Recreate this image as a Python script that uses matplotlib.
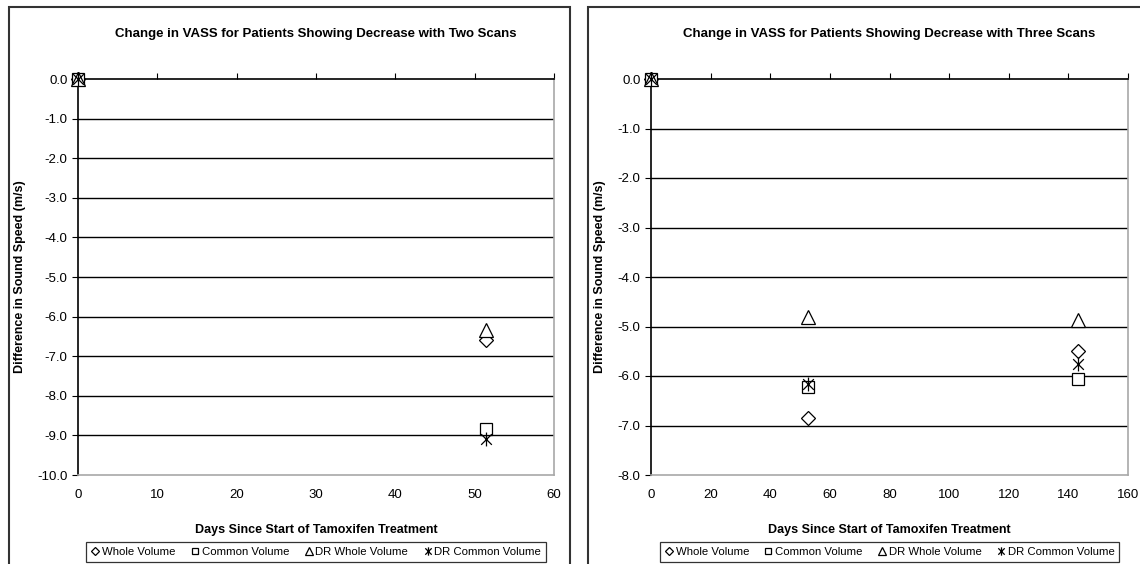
import matplotlib
matplotlib.use("Agg")
import matplotlib.pyplot as plt
from matplotlib.path import Path
from matplotlib.patches import Rectangle

plt.rcParams['font.family'] = ['Liberation Sans', 'DejaVu Sans']

# two-scan patients
days_two = [0, 51.4]
whole_two = [0.0, -6.60]
common_two = [0.0, -8.85]
dr_whole_two = [0.0, -6.35]
dr_common_two = [0.0, -9.08]

# three-scan patients
days_three = [0, 52.5, 143.3]
whole_three = [0.0, -6.85, -5.49]
common_three = [0.0, -6.22, -6.07]
dr_whole_three = [0.0, -4.80, -4.87]
dr_common_three = [0.0, -6.16, -5.75]

series_names = ["Whole Volume", "Common Volume", "DR Whole Volume", "DR Common Volume"]

W, H = 1140, 564
fig = plt.figure(figsize=(W / 100, H / 100), dpi=100)

# asterisk marker: X plus vertical stroke
star_path = Path(
    [(-1, -1), (1, 1), (-1, 1), (1, -1), (0, -1.3), (0, 1.3)],
    [Path.MOVETO, Path.LINETO, Path.MOVETO, Path.LINETO, Path.MOVETO, Path.LINETO],
)
styles = [
    dict(marker="D", ms=7),
    dict(marker="s", ms=8),
    dict(marker="^", ms=10),
    dict(marker=star_path, ms=10),
]


def px_box(x0, x1, y0, y1):
    return [x0 / W, (H - y1) / H, (x1 - x0) / W, (y1 - y0) / H]


def panel(x0, x1, ymin, yticks, xmax, xstep, title, days, series):
    ax = fig.add_axes(px_box(x0, x1, 79, 475))
    for (vals, name, st) in zip(series, series_names, styles):
        ax.plot(days, vals, linestyle="none", marker=st["marker"], ms=st["ms"],
                mfc="white", mec="black", mew=0.9, label=name, clip_on=False, zorder=5)
    ax.set_xlim(0, xmax)
    ax.set_ylim(ymin, 0)
    ax.set_xticks(range(0, xmax + 1, xstep))
    ax.set_yticks(yticks)
    ax.set_yticklabels([f"{v:.1f}" for v in yticks])
    for y in yticks[1:-1]:
        ax.axhline(y, color="black", lw=1.0, zorder=1)
    ax.spines["left"].set_color("black")
    ax.spines["top"].set_color("black")
    ax.spines["right"].set_color("#a8a8a8")
    ax.spines["bottom"].set_color("#a8a8a8")
    for s in ax.spines.values():
        s.set_linewidth(1.2)
    ax.tick_params(axis="x", bottom=False, top=True, labelbottom=True, labeltop=False,
                   direction="out", length=4, color="black", labelsize=9.5, pad=6)
    ax.tick_params(axis="y", direction="out", length=4, color="black", labelsize=9.5)
    ax.set_xlabel("Days Since Start of Tamoxifen Treatment", fontsize=9, fontweight="bold",
                  labelpad=17)
    ax.set_ylabel("Difference in Sound Speed (m/s)", fontsize=9, fontweight="bold", labelpad=8)
    cx = (x0 + x1) / 2
    fig.text(cx / W, (H - 34) / H, title, ha="center", va="center", fontsize=9.5,
             fontweight="bold")
    leg = ax.legend(loc="center", bbox_to_anchor=(0.5, (475 - 552) / 396),
                    ncol=4, fontsize=8.2, markerscale=0.6, frameon=True, fancybox=False,
                    handlelength=0.8, handletextpad=0.2, columnspacing=1.3,
                    borderpad=0.4, edgecolor="black")
    leg.get_frame().set_linewidth(0.9)
    return ax


panel(78, 554, -10, [-i for i in range(10, -1, -1)], 60, 10,
      "Change in VASS for Patients Showing Decrease with Two Scans",
      days_two, [whole_two, common_two, dr_whole_two, dr_common_two])
panel(651, 1128, -8, [-i for i in range(8, -1, -1)], 160, 20,
      "Change in VASS for Patients Showing Decrease with Three Scans",
      days_three, [whole_three, common_three, dr_whole_three, dr_common_three])

# outer chart frames
fig.patches.append(Rectangle((9 / W, -0.1), (570 - 9) / W, (H - 7) / H + 0.1,
                             transform=fig.transFigure, fill=False, ec="#333333", lw=1.5))
fig.patches.append(Rectangle((588 / W, -0.1), (1200 - 588) / W, (H - 7) / H + 0.1,
                             transform=fig.transFigure, fill=False, ec="#333333", lw=1.5))

fig.savefig("out.png", dpi=100)
